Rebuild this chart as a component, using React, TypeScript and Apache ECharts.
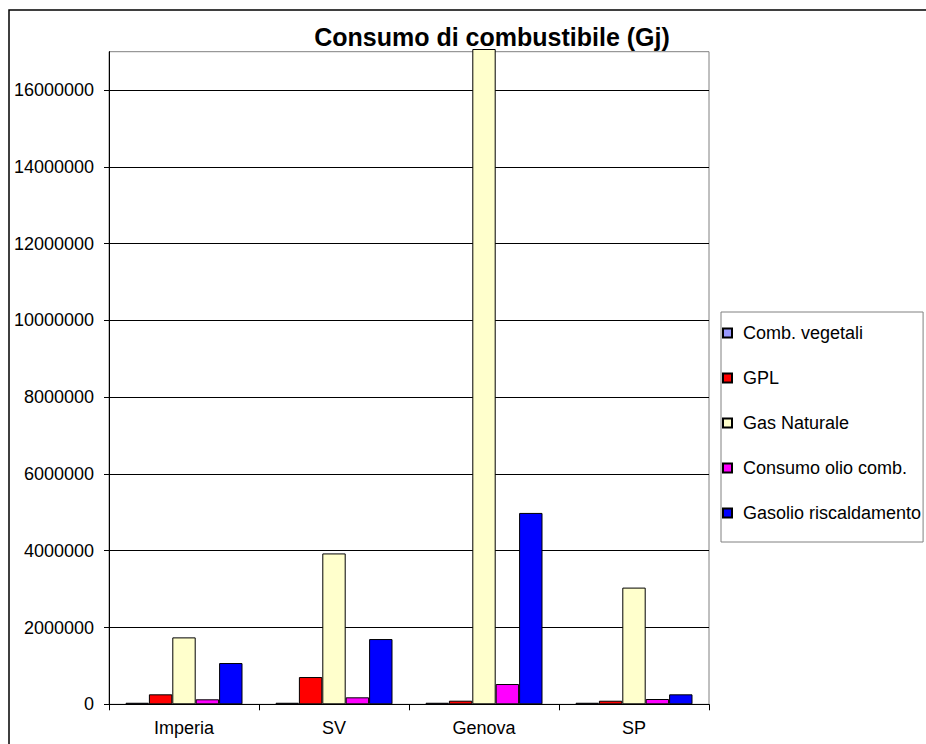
import React, { useEffect, useRef } from "react";
import * as echarts from "echarts";

// Provinces (categories on the x axis)
const provinces = ["Imperia", "SV", "Genova", "SP"];

// Fuel consumption per province, in Gj
const combVegetali = [40000, 40000, 40000, 40000];
const gpl = [260000, 710000, 94000, 93000];
const gasNaturale = [1743000, 3930000, 17070000, 3040000];
const olioComb = [130000, 182000, 528000, 138000];
const gasolioRiscaldamento = [1075000, 1700000, 4985000, 260000];

const seriesNames = [
  "Comb. vegetali",
  "GPL",
  "Gas Naturale",
  "Consumo olio comb.",
  "Gasolio riscaldamento",
];
const seriesColors = ["#9999FF", "#FF0000", "#FFFFCC", "#FF00FF", "#0000FF"];
const seriesData = [combVegetali, gpl, gasNaturale, olioComb, gasolioRiscaldamento];

const FONT = "'Liberation Sans', Arial, sans-serif";

export default function App() {
  const ref = useRef<HTMLDivElement>(null);

  useEffect(() => {
    if (!ref.current) return;
    const chart = echarts.init(ref.current, undefined, { renderer: "svg" });

    chart.setOption({
      animation: false,
      backgroundColor: "#ffffff",
      textStyle: { fontFamily: FONT, color: "#000" },
      title: {
        text: "Consumo di combustibile (Gj)",
        left: 487,
        top: 19,
        textAlign: "center",
        textStyle: {
          fontFamily: FONT,
          fontWeight: "bold",
          fontSize: 25,
          color: "#000",
        },
      },
      graphic: [
        {
          type: "rect",
          silent: true,
          z: -10,
          shape: { x: 9, y: 10, width: 1000, height: 1000 },
          style: { fill: "none", stroke: "#000", lineWidth: 1.5 },
        },
      ],
      legend: {
        orient: "vertical",
        left: 721,
        top: 312,
        itemWidth: 9,
        itemHeight: 9,
        itemGap: 27,
        padding: [12, 2, 20, 1],
        backgroundColor: "#fff",
        borderColor: "#808080",
        borderWidth: 1,
        icon: "rect",
        textStyle: {
          fontFamily: FONT,
          fontSize: 18,
          color: "#000",
          padding: [0, 0, 0, 6],
        },
        data: seriesNames,
      },
      grid: {
        left: 109,
        top: 51.7,
        right: 217,
        bottom: 39.7,
        show: true,
        backgroundColor: "#fff",
        borderColor: "#808080",
        borderWidth: 1,
      },
      xAxis: {
        type: "category",
        data: provinces,
        axisLine: { lineStyle: { color: "#000", width: 1 } },
        axisTick: { show: true, length: 6, lineStyle: { color: "#000" } },
        axisLabel: {
          fontFamily: FONT,
          fontSize: 18,
          color: "#000",
          margin: 15,
        },
      },
      yAxis: {
        type: "value",
        min: 0,
        max: 17000000,
        interval: 2000000,
        axisLine: { show: true, lineStyle: { color: "#000", width: 1 } },
        axisTick: { show: true, length: 5, lineStyle: { color: "#000" } },
        axisLabel: {
          fontFamily: FONT,
          fontSize: 18,
          color: "#000",
          margin: 15,
          showMaxLabel: false,
          formatter: (v: number) => (v === 17000000 ? "" : String(v)),
        },
        splitLine: {
          show: true,
          showMinLine: false,
          showMaxLine: false,
          lineStyle: { color: "#000", width: 1 },
        },
      },
      series: seriesNames.map((name, i) => ({
        name,
        type: "bar",
        data: seriesData[i],
        barGap: "0%",
        barCategoryGap: "22%",
        clip: false,
        itemStyle: {
          color: seriesColors[i],
          borderColor: "#000",
          borderWidth: 1,
        },
      })),
    });

    return () => chart.dispose();
  }, []);

  return (
    <div
      ref={ref}
      style={{ position: "absolute", left: 0, top: 0, width: 926, height: 744 }}
    />
  );
}
